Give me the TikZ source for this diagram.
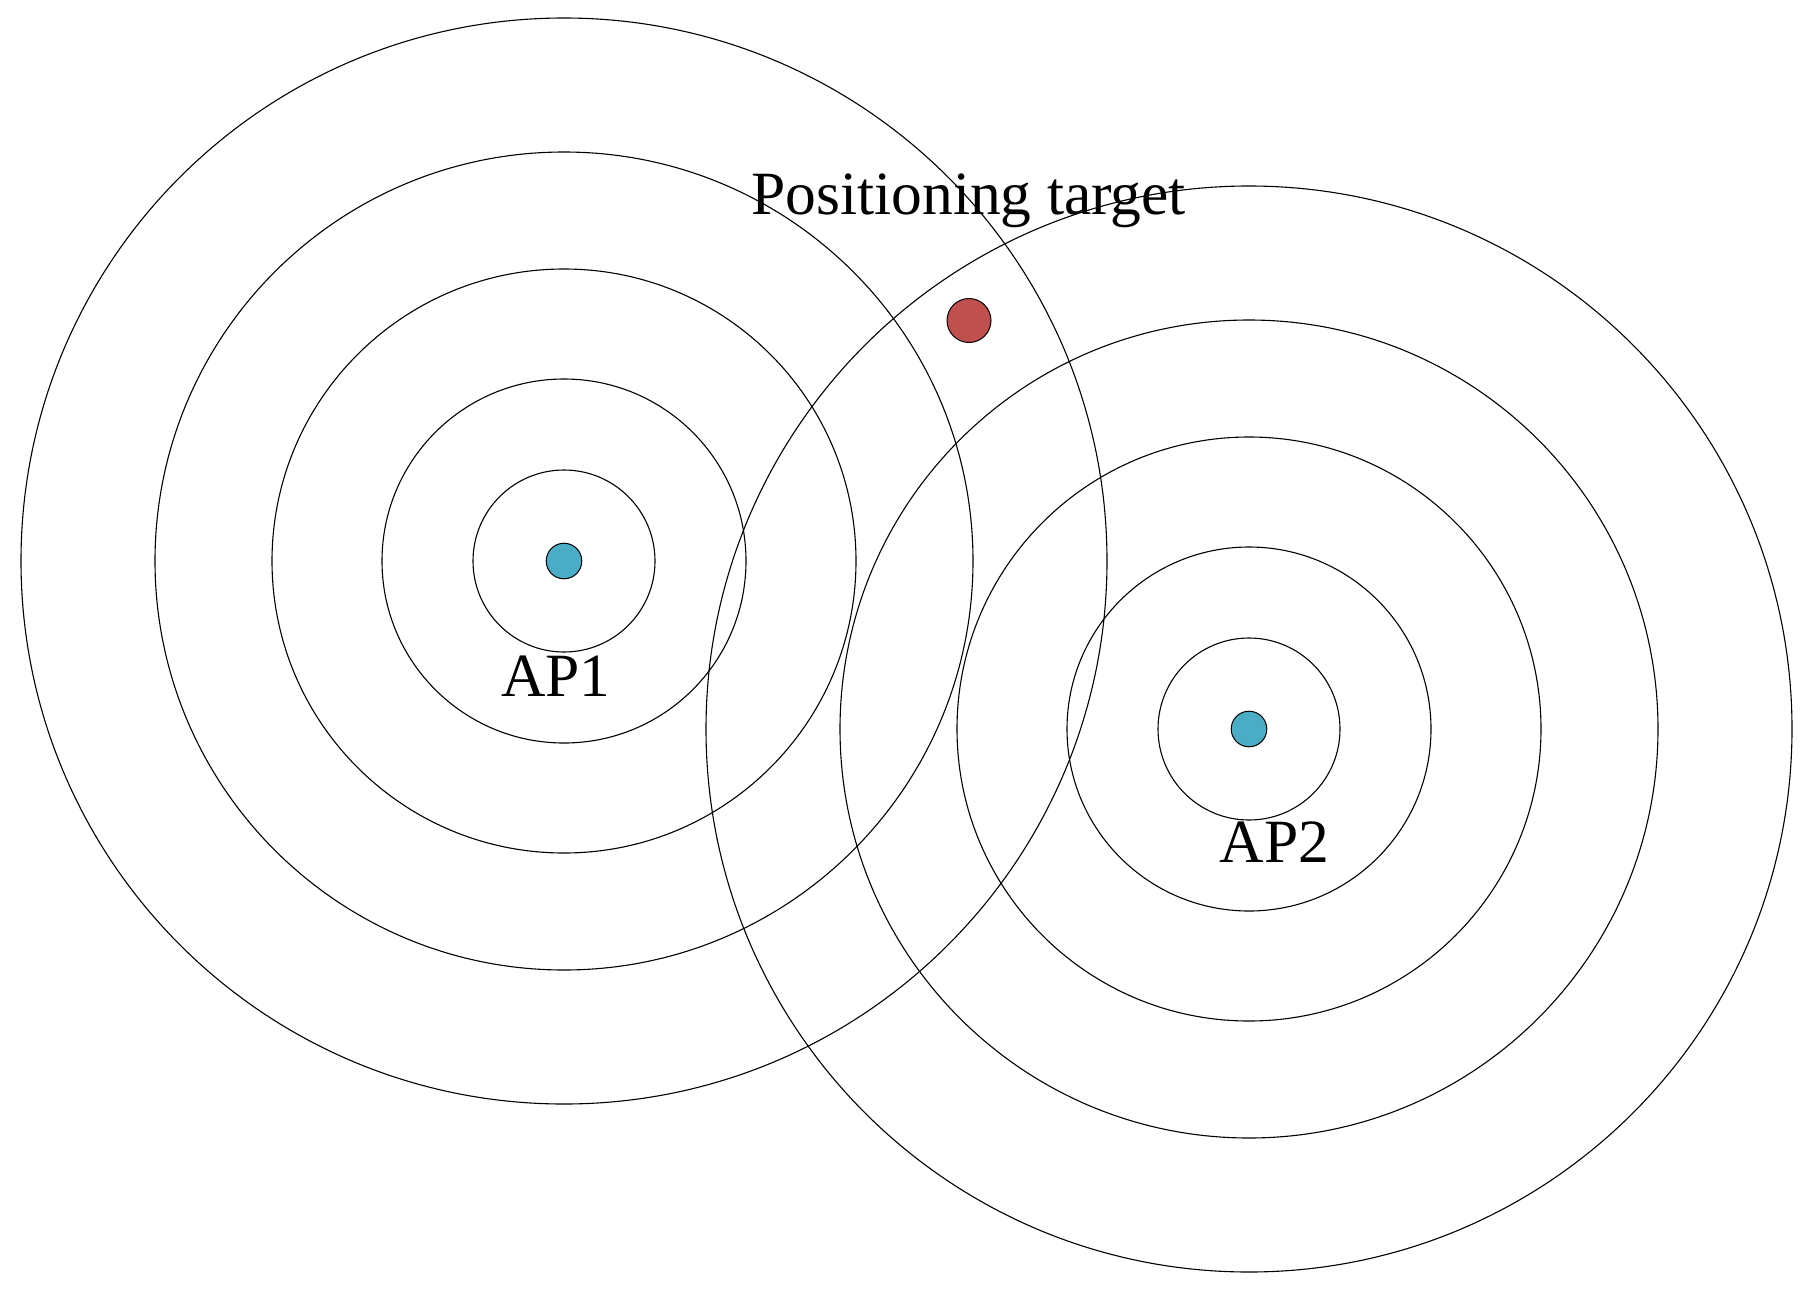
\documentclass[tikz,border=0pt]{standalone}
\usepackage{fontspec}
\setmainfont{Liberation Serif}
\definecolor{apblue}{HTML}{4BACC6}
\definecolor{tgtred}{HTML}{C0504D}
\begin{document}
\begin{tikzpicture}[x=0.5pt,y=-0.5pt,
  ring/.style={draw=black,line width=0.55pt},
  apdot/.style={circle,draw=black,line width=0.5pt,fill=apblue,minimum size=17.8pt,inner sep=0pt},
  tgtdot/.style={circle,draw=black,line width=0.5pt,fill=tgtred,minimum size=22pt,inner sep=0pt},
  lbl/.style={anchor=base,inner sep=0pt,font=\fontsize{30.75}{36}\selectfont}]
\useasboundingbox (0,0) rectangle (1815,1296);
\fill[white] (0,0) rectangle (1815,1296);
\coordinate (c1) at (564,561);
\coordinate (c2) at (1249,729);
\foreach \r in {91,182,292,409,543}{
  \draw[ring] (c1) circle[radius=\r];
  \draw[ring] (c2) circle[radius=\r];
}
\node[apdot] (ap1) at (c1) {};
\node[apdot] (ap2) at (c2) {};
\node[tgtdot] (tgt) at (969,320.5) {};
\node[lbl] (tgtlbl) at (968.7,214) {Positioning target};
\node[lbl] (ap1lbl) at (556,696) {AP1};
\node[lbl] (ap2lbl) at (1274.3,862.7) {AP2};
\end{tikzpicture}
\end{document}
